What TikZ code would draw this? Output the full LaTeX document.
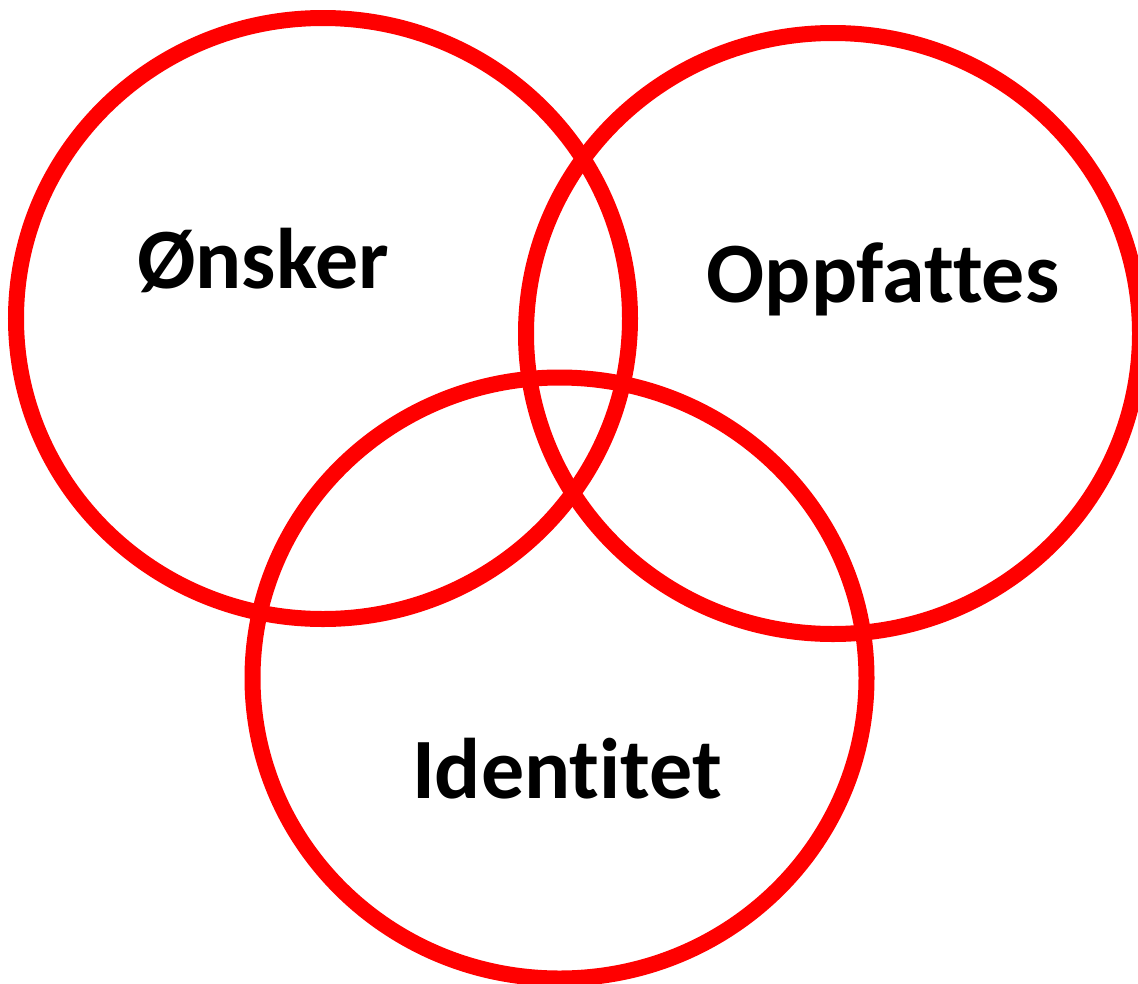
\documentclass[tikz,border=0pt]{standalone}
\usepackage{fontspec}
\setmainfont{Carlito}[Ligatures={NoCommon}]
\usepackage{tikz}
\usetikzlibrary{positioning, shapes.geometric}

\begin{document}
\begin{tikzpicture}[x=1pt, y=-1pt, ring/.style={ellipse, draw=red, line width=16pt,
					minimum width=614pt, minimum height=601pt, inner sep=0pt},
					word/.style={anchor=base, font=\fontsize{86}{100}\selectfont\bfseries}]
					\useasboundingbox (0,0) rectangle (1138,983);
					
					%Sirkler:
					\node[ring] (onsker)    at (323,318.5) {};
					\node[ring] (oppfattes) at (833,333.5) {};
					\node[ring] (identitet) at (559.5,678) {};
					
					%Tekst
					\node[word] (tOnsker)    at (263,288) {Ønsker};
					\node[word] (tOppfattes) at (883,302) {Oppfattes};
					\node[word] (tIdentitet) at (567,798) {Identitet};
				\end{tikzpicture}
\end{document}
